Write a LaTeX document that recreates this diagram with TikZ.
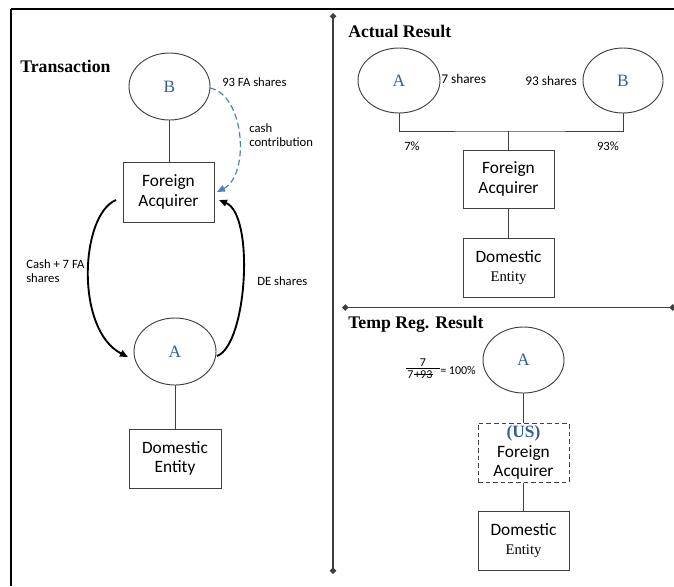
\documentclass[tikz,border=0pt]{standalone}
\usepackage{fontspec}
\setmainfont{Liberation Serif}
\newfontfamily\calfont{Carlito}
\usetikzlibrary{shapes.geometric,arrows.meta}
\definecolor{lettblue}{HTML}{365F91}
\definecolor{arrblue}{HTML}{4F81BD}
\definecolor{edgegray}{HTML}{404040}
\tikzset{
 party/.style={ellipse,draw=edgegray,line width=0.7pt,inner sep=0pt,minimum width=61pt,minimum height=50pt,font=\fontsize{13}{14}\selectfont,text=lettblue},
 entbox/.style={rectangle,draw=edgegray,line width=0.75pt,inner sep=0pt,minimum width=68.25pt,minimum height=44.5pt,align=center,font=\calfont\fontsize{13}{14.5}\selectfont},
 lbl/.style={inner sep=0pt,font=\calfont\fontsize{9.5}{10.5}\selectfont,align=left},
 frac/.style={inner sep=0pt,font=\calfont\fontsize{9}{9.5}\selectfont},
 ttl/.style={inner sep=0pt,anchor=west,font=\bfseries\fontsize{13.3}{15}\selectfont},
 link/.style={draw=edgegray,line width=0.75pt},
 flow/.style={line width=1.4pt,-{Triangle[length=6pt,width=5pt]}},
 dflow/.style={arrblue,line width=0.9pt,dash pattern=on 4.5pt off 2.5pt,-{Triangle[length=6pt,width=5pt]}},
 divline/.style={draw=edgegray,line width=1pt},
}
\begin{document}
\begin{tikzpicture}[x=0.75pt,y=-0.75pt]
\useasboundingbox (0,0) rectangle (674,586);
% frame
\coordinate (ftl) at (11,9);
\coordinate (ftr) at (674,9);
\coordinate (fbl) at (11,586);
\draw[line width=1.9pt] (ftl) -- (ftr);
\draw[line width=1pt] (ftl) -- (fbl);
\coordinate (vtop) at (333,13);
\coordinate (vbot) at (333,574);
\draw[divline,{Diamond[length=5pt,width=5pt]}-{Diamond[length=5pt,width=5pt]}] (vtop) -- (vbot);
\coordinate (hl) at (342,307.5);
\coordinate (hr) at (676,307.5);
\draw[divline,{Diamond[length=5pt,width=5pt]}-{Diamond[length=5pt,width=5pt]}] (hl) -- (hr);

% ---- Transaction ----
\node[ttl] (t1) at (20,66) {Transaction};
\node[party,minimum width=60.75pt,minimum height=50.25pt] (tB) at (169.5,86.5) {B};
\node[entbox,minimum height=45pt] (tFA) at (168.5,192) {Foreign\\Acquirer};
\node[party,minimum width=61.5pt,minimum height=50.25pt] (tA) at (175,351.5) {A};
\node[entbox,minimum width=69pt,minimum height=44.25pt] (tDE) at (175,458.5) {Domestic\\Entity};
\draw[link] (tB.south) -- (tB.south |- tFA.north);
\draw[link] (tA.south) -- (tA.south |- tDE.north);

\coordinate (c1s) at (210,88);
\coordinate (c1e) at (217,192);
\draw[dflow] (c1s) .. controls (245,95) and (250,175) .. (c1e);
\coordinate (c2s) at (116,200);
\coordinate (c2e) at (128,357);
\draw[flow] (c2s) .. controls (80,215) and (75,330) .. (c2e);
\coordinate (c3s) at (217,356);
\coordinate (c3e) at (219,200);
\draw[flow] (c3s) .. controls (247,345) and (255,215) .. (c3e);

\node[lbl,anchor=west] (l93) at (222,82) {93 FA shares};
\node[lbl,anchor=west] (lcash) at (249,135) {cash\\contribution};
\node[lbl,anchor=west] (l7fa) at (26,271.5) {Cash + 7 FA\\shares};
\node[lbl,anchor=west] (lde) at (257,281) {DE shares};

% ---- Actual Result ----
\node[ttl] (t2) at (348,31) {Actual Result};
\node[party,minimum width=61.5pt,minimum height=48.75pt] (aA) at (399,80.5) {A};
\node[party,minimum width=60pt,minimum height=48.75pt] (aB) at (623,80.5) {B};
\node[entbox,minimum height=43.5pt] (aFA) at (508.5,179) {Foreign\\Acquirer};
\node[entbox,minimum height=44.25pt] (aDE) at (508.5,267.5) {Domestic\\{\rmfamily\fontsize{11}{14.5}\selectfont Entity}};
\coordinate (junc) at (508.5,131);
\draw[link] (aA.south) |- (junc) -| (aB.south);
\draw[link] (junc) -- (aFA.north);
\draw[link] (aFA.south) -- (aDE.north);
\node[lbl,anchor=west,font=\calfont\fontsize{10}{11}\selectfont] (a7s) at (441,79) {7 shares};
\node[lbl,anchor=east,font=\calfont\fontsize{10}{11}\selectfont] (a93s) at (577,81) {93 shares};
\node[lbl] (a7p) at (412,146.5) {7\%};
\node[lbl] (a93p) at (608,146.5) {93\%};

% ---- Temp Reg. Result ----
\node[ttl] (t3) at (348,324) {Temp Reg. Result};
\node[party,minimum width=60.75pt,minimum height=49.5pt] (rA) at (523.5,360) {A};
\node[entbox,dash pattern=on 3.5pt off 2.2pt,minimum height=44.25pt] (rFA) at (523.5,452.5) {{\rmfamily\bfseries\textcolor{lettblue}{(US)}}\\Foreign\\Acquirer};
\node[entbox,minimum height=44.25pt] (rDE) at (523.5,540.5) {Domestic\\{\rmfamily\fontsize{11}{14.5}\selectfont Entity}};
\draw[link] (rA.south) -- (rFA.north);
\draw[link] (rFA.south) -- (rDE.north);
\node[frac] (fnum) at (423,362.5) {7};
\coordinate (fbarl) at (406,368);
\coordinate (fbarr) at (440,368);
\draw[line width=0.5pt] (fbarl) -- (fbarr);
\node[frac,anchor=west] (fden7) at (407,374.5) {7};
\node[frac,anchor=west] (fden93) at (414,374.5) {+93};
\draw[line width=0.5pt] (fden93.west) -- (fden93.east);
\node[frac,anchor=west] (fres) at (440,370) {= 100\%};
\end{tikzpicture}
\end{document}
